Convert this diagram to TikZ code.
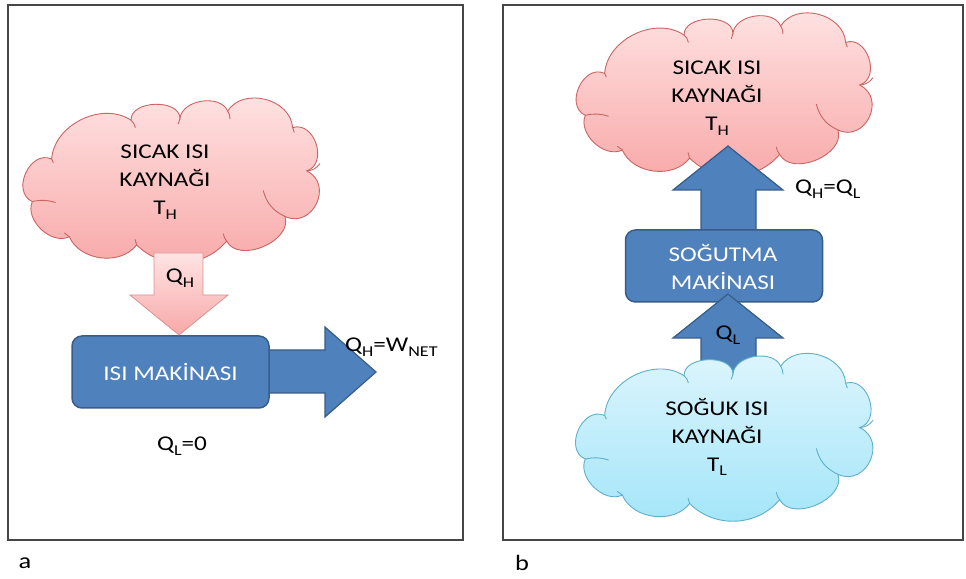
\documentclass[tikz,border=0pt]{standalone}
\usepackage{fontspec}
\setmainfont{Carlito}[FakeStretch=1.2]
\usepackage{graphicx}

\definecolor{frameGray}{RGB}{70,70,70}
\definecolor{pinkTop}{RGB}{255,228,228}
\definecolor{pinkBot}{RGB}{248,168,168}
\definecolor{pinkEdge}{RGB}{205,100,100}
\definecolor{blueTop}{RGB}{224,246,253}
\definecolor{blueBot}{RGB}{162,229,249}
\definecolor{blueEdge}{RGB}{95,175,205}
\definecolor{boxBlue}{RGB}{79,129,189}
\definecolor{boxEdge}{RGB}{56,93,138}

% subscript set smaller and lowered
\newcommand\lowsub[1]{\raisebox{-0.45ex}{\fontsize{15}{15}\selectfont #1}}

% puffy cloud centred at #1 with half sizes #2 x #3, colours #4 (top), #5 (bottom), #6 (edge)
\newcommand\puffcloud[6]{%
  \begin{scope}[shift={#1}]
    \def\cw{#2}\def\ch{#3}
    \coordinate (v1) at ({-0.817*\cw},{0.294*\ch});
    \coordinate (v2) at ({-0.291*\cw},{0.791*\ch});
    \coordinate (v3) at ({0.033*\cw},{0.815*\ch});
    \coordinate (v4) at ({0.349*\cw},{0.910*\ch});
    \coordinate (v5) at ({0.779*\cw},{0.697*\ch});
    \coordinate (v6) at ({0.872*\cw},{0.142*\ch});
    \coordinate (v7) at ({0.728*\cw},{-0.441*\ch});
    \coordinate (v8) at ({0.342*\cw},{-0.758*\ch});
    \coordinate (v9) at ({-0.254*\cw},{-0.806*\ch});
    \coordinate (v10) at ({-0.700*\cw},{-0.701*\ch});
    \coordinate (v11) at ({-0.945*\cw},{-0.251*\ch});
    \def\cloudpath{(v1) to[bend left=60] (v2)
      to[bend left=90,looseness=1.05] (v3)
      to[bend left=75] (v4)
      to[bend left=72,looseness=1.1] (v5)
      to[bend left=90,looseness=1.3] (v6)
      to[bend left=90,looseness=1.55] (v7)
      to[bend left=85,looseness=1.05] (v8)
      to[bend left=48] (v9)
      to[bend left=60] (v10)
      to[bend left=70] (v11)
      to[bend left=90,looseness=1.3] (v1) -- cycle}
    \fill[black,opacity=0.15,shift={(1,-2.5)}] \cloudpath;
    \path[top color=#4,bottom color=#5,draw=#6,line width=0.9pt] \cloudpath;
    \begin{scope}[draw=#6,line width=0.9pt]
      \draw (v1) to[bend right=20] ++(1.7,-3.7);
      \draw (v2) to[bend left=20] ++(4.3,-7.4);
      \draw (v3) to[bend right=10] ++(-1.7,-5.6);
      \draw (v4) to[bend left=15] ++(2.3,-8.1);
      \draw (v5) to[bend left=10] ++(1.7,-4.8);
      \draw (v6) to[bend right=25] ++(13.3,7.4);
      \draw (v7) to[bend left=25] ++(-21.7,25.9);
      \draw (v8) to[bend left=15] ++(-3.3,7.4);
      \draw (v9) to[bend right=15] ++(-1.7,5.6);
      \draw (v10) to[bend right=15] ++(-5,3.7);
      \draw (v11) to[bend left=15] ++(23.3,-1);
    \end{scope}
  \end{scope}}

\tikzset{
  panel/.style={draw=frameGray,line width=1.1pt},
  lbl/.style={font=\fontsize{21}{28}\selectfont,align=center,text=black,inner sep=0pt},
  boxlbl/.style={lbl,text=white},
  machine/.style={draw=boxEdge,fill=boxBlue,line width=1.5pt,rounded corners=10pt,
    minimum width=197pt,minimum height=72pt,inner sep=0pt},
  bluearrow/.style={fill=boxBlue,draw=boxEdge,line width=1.2pt},
  pinkarrow/.style={top color=pinkTop,bottom color=pinkBot,draw=pinkEdge!70,line width=0.8pt},
  tag/.style={font=\fontsize{22}{22}\selectfont,inner sep=0pt}
}

\begin{document}
\begin{tikzpicture}[x=1pt,y=1pt]
  \useasboundingbox (0,0) rectangle (966,578);
  \fill[white] (0,0) rectangle (966,578);

  % ---------- panel a: heat engine ----------
  \draw[panel] (8,38) rectangle (463,573);
  \node[tag] (taga) at (25,15) {a};

  \puffcloud{(175,396)}{151}{78}{pinkTop}{pinkBot}{pinkEdge}
  \node[lbl] (hotA) at (165,396) {SICAK ISI\\KAYNAĞI\\T\lowsub{H}};

  % work output arrow, starting behind the engine box
  \draw[bluearrow] (250,228) -- (325,228) -- (325,251) -- (376,206)
    -- (325,161) -- (325,185) -- (250,185) -- cycle;
  \node[machine] (engA) at (170.5,206) {};
  \node[boxlbl] at (engA.center) {ISI MAKİNASI};

  % heat input arrow from the hot source
  \path[pinkarrow] (154,325) -- (203,325) -- (203,283) -- (228,283)
    -- (179,243) -- (130,283) -- (154,283) -- cycle;
  \node[lbl] (qhA) at (180,300) {Q\lowsub{H}};

  \node[lbl,anchor=west] (wnet) at (345,231) {Q\lowsub{H}=W\lowsub{NET}};
  \node[lbl] (qlA) at (182,132) {Q\lowsub{L}=0};

  % ---------- panel b: refrigerator ----------
  \draw[panel] (503,38) rectangle (963,573);
  \node[tag] (tagb) at (522,15) {b};

  \puffcloud{(728,482)}{151}{77}{pinkTop}{pinkBot}{pinkEdge}

  % heat rejected to the hot source
  \draw[bluearrow] (701,348) -- (701,388) -- (673,388) -- (728,432)
    -- (783,388) -- (756,388) -- (756,348) -- cycle;

  \node[machine] (engB) at (724,312) {};
  \node[boxlbl] at (723,311) {SOĞUTMA\\MAKİNASI};

  % heat drawn from the cold source
  \draw[bluearrow] (701,205) -- (701,240) -- (673,240) -- (728,284)
    -- (783,240) -- (756,240) -- (756,205) -- cycle;

  \puffcloud{(728,139)}{151}{80}{blueTop}{blueBot}{blueEdge}

  \node[lbl] (hotB) at (717,480) {SICAK ISI\\KAYNAĞI\\T\lowsub{H}};
  \node[lbl] (coldB) at (717,141) {SOĞUK ISI\\KAYNAĞI\\T\lowsub{L}};
  \node[lbl] (qlB) at (728,243) {Q\lowsub{L}};
  \node[lbl,anchor=west] (qhql) at (795,389) {Q\lowsub{H}=Q\lowsub{L}};
\end{tikzpicture}
\end{document}
